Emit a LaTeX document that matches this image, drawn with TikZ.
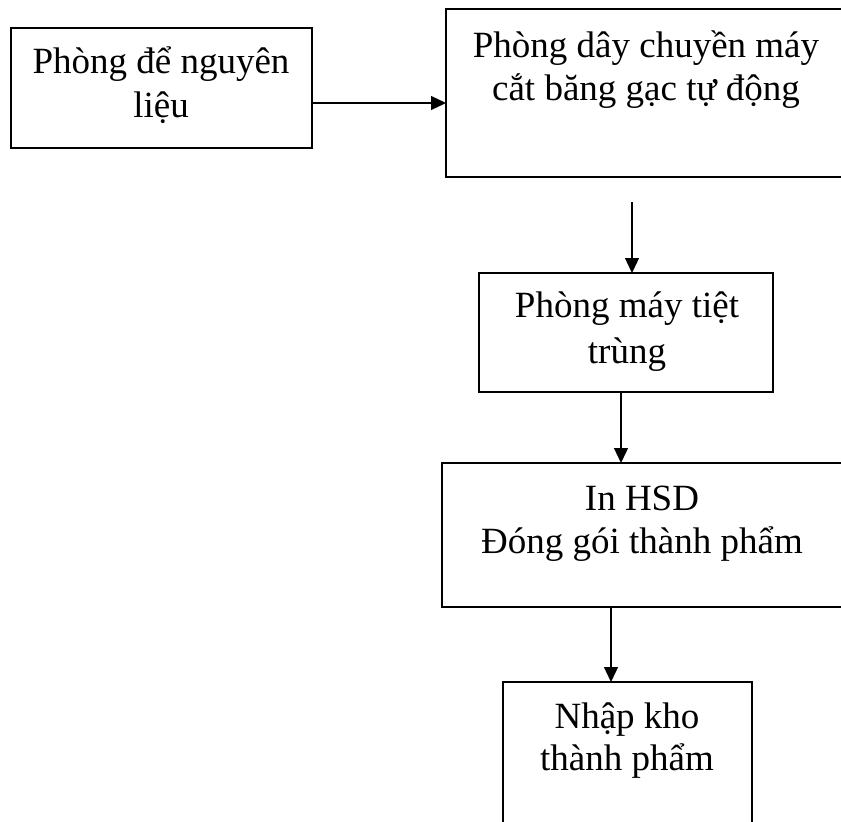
\documentclass[tikz,border=0pt]{standalone}
\usepackage{fontspec}
\setmainfont{Liberation Serif}
\usetikzlibrary{arrows.meta}
\begin{document}
\begin{tikzpicture}[x=1pt,y=-1pt,
  box/.style={draw, line width=1.3pt, rectangle, anchor=north west, inner sep=0pt, outer sep=0pt},
  txt/.style={anchor=base, inner sep=0pt, font=\fontsize{37}{44}\selectfont},
  arr/.style={line width=1.3pt, -{Triangle[length=15pt,width=14pt]}}]
\useasboundingbox (0,0) rectangle (841,822);
\clip (0,0) rectangle (841,822);
% boxes
\node[box, minimum width=301pt, minimum height=120pt] (b1) at (11,28) {};
\node[box, minimum width=420pt, minimum height=168pt] (b2) at (446,9) {};
\node[box, minimum width=294pt, minimum height=119pt] (b3) at (479,273) {};
\node[box, minimum width=420pt, minimum height=144pt] (b4) at (442,463) {};
\node[box, minimum width=249pt, minimum height=170pt] (b5) at (503,682) {};
% texts
\node[txt] (t1a) at (161,73) {Phòng để nguyên};
\node[txt] (t1b) at (161,117) {liệu};
\node[txt] (t2a) at (646,57) {Phòng dây chuyền máy};
\node[txt] (t2b) at (646,100) {cắt băng gạc tự động};
\node[txt] (t3a) at (627,317) {Phòng máy tiệt};
\node[txt] (t3b) at (627,363) {trùng};
\node[txt] (t4a) at (642,510) {In HSD};
\node[txt] (t4b) at (642,553) {Đóng gói thành phẩm};
\node[txt] (t5a) at (627,728) {Nhập kho};
\node[txt] (t5b) at (627,770) {thành phẩm};
% connectors
\coordinate (c1) at (0,103);
\coordinate (c2) at (632,202);
\coordinate (c3) at (621,0);
\coordinate (c4) at (611,0);
\draw[arr] (b1.east |- c1) -- (b2.west |- c1);
\draw[arr] (c2) -- (c2 |- b3.north);
\draw[arr] (c3 |- b3.south) -- (c3 |- b4.north);
\draw[arr] (c4 |- b4.south) -- (c4 |- b5.north);
\end{tikzpicture}
\end{document}
